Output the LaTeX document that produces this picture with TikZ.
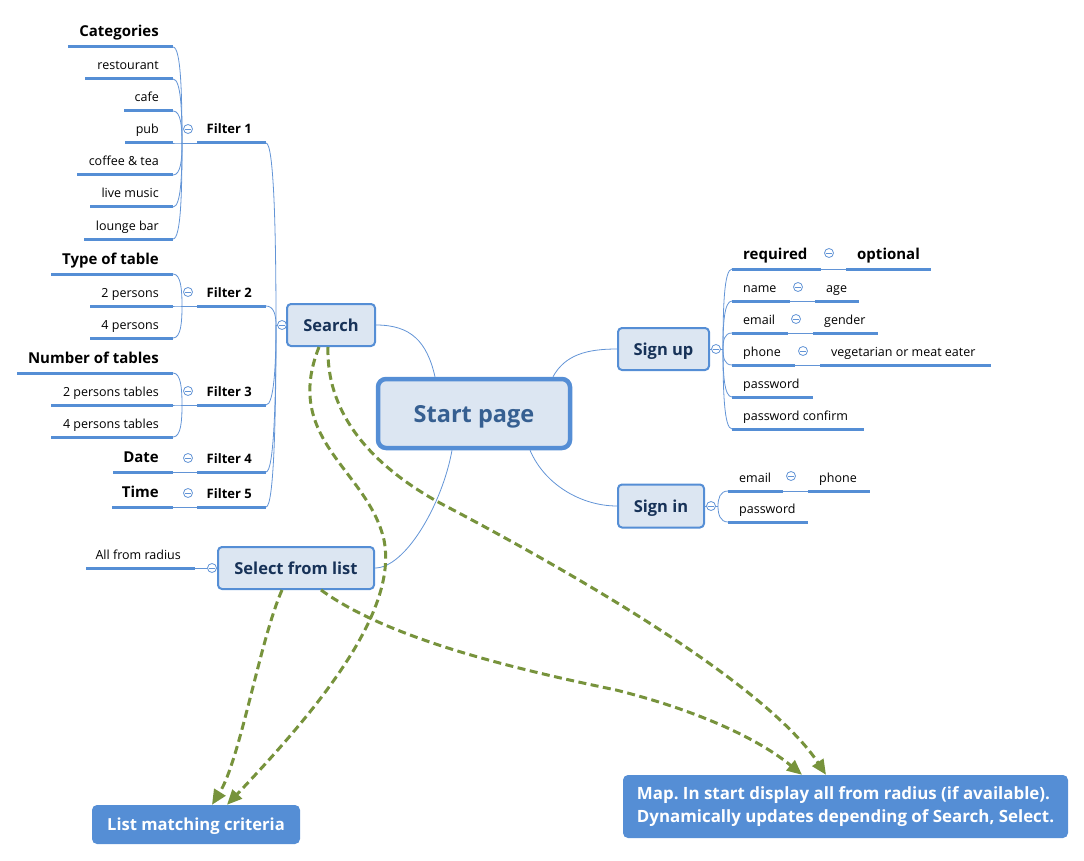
\documentclass[tikz,border=0pt]{standalone}
\usepackage{fontspec}
\setmainfont{Open Sans}
\usetikzlibrary{arrows.meta,calc}
\frenchspacing

\definecolor{topicblue}{RGB}{85,142,213}
\definecolor{linkblue}{RGB}{98,148,214}
\definecolor{boxfill}{RGB}{220,230,242}
\definecolor{navy}{RGB}{23,50,88}
\definecolor{titleblue}{RGB}{54,95,145}
\definecolor{olive}{RGB}{119,147,60}

\newcommand{\setfs}[1]{\fontsize{#1}{#1}\selectfont}

% left-hand leaf: name, underline y, left x, right x, style, text
\newcommand{\lleaf}[6]{%
  \coordinate (#1-a) at (#3,#2);
  \coordinate (#1-b) at (#4,#2);
  \draw[uline] (#1-a) -- (#1-b);
  \node[#5, anchor=base east] (#1) at ({#4-14},{#2-9}) {#6};}
% right-hand leaf: name, underline y, left x, right x, style, text
\newcommand{\rleaf}[6]{%
  \coordinate (#1-a) at (#3,#2);
  \coordinate (#1-b) at (#4,#2);
  \draw[uline] (#1-a) -- (#1-b);
  \node[#5, anchor=base west] (#1) at ({#3+11},{#2-9}) {#6};}
% curved branch from a leaf end to its junction
\newcommand{\joinL}[2]{\draw[link] (#1) .. controls ($(#1)+(8,0)$) and ($(#2)!0.5!(#2|-#1)$) .. (#2);}
\newcommand{\joinR}[2]{\draw[link] (#1) .. controls ($(#1)+(-8,0)$) and ($(#2)!0.5!(#2|-#1)$) .. (#2);}

\begin{document}
\begin{tikzpicture}[x=1pt,y=-1pt,
  leaf/.style={font=\setfs{12.5}, inner sep=0pt, text=black},
  head/.style={font=\bfseries\setfs{15}, inner sep=0pt, text=black, yshift=1pt},
  flt/.style={font=\bfseries\setfs{13}, inner sep=0pt, text=black},
  uline/.style={line width=3pt, topicblue},
  link/.style={line width=0.8pt, linkblue},
  topic/.style={draw=topicblue, line width=2pt, fill=boxfill, rounded corners=4pt,
    font=\bfseries\setfs{16.5}, text=navy, inner sep=0pt, text depth=0pt},
  mainbox/.style={draw=topicblue, line width=4.5pt, fill=boxfill, rounded corners=8pt,
    font=\bfseries\setfs{23.5}, text=titleblue, inner sep=0pt, text depth=0pt,
    minimum width=192pt, minimum height=69pt},
  callout/.style={fill=topicblue, rounded corners=5pt, text=white,
    font=\bfseries\setfs{16.6}, inner sep=0pt},
  flow/.style={olive, line width=3pt, dash pattern=on 8pt off 4.5pt,
    -{Triangle[length=15pt,width=13pt]}},
  fold/.style={circle, draw=linkblue, fill=white, line width=0.8pt, minimum size=9pt,
    inner sep=0pt, path picture={\draw[linkblue, line width=0.8pt]
      ([xshift=-2.6pt]path picture bounding box.center) --
      ([xshift=2.6pt]path picture bounding box.center);}}]
\useasboundingbox (0,0) rectangle (1084,861);

% ---- Filter 1: categories
\lleaf{cat}{47}{68}{173}{head}{Categories}
\lleaf{rest}{79}{85}{173}{leaf}{restourant}
\lleaf{cafe}{111}{124}{173}{leaf}{cafe}
\lleaf{pub}{143}{125}{173}{leaf}{pub}
\lleaf{cof}{175}{77}{173}{leaf}{coffee \& tea}
\lleaf{live}{207}{90}{173}{leaf}{live music}
\lleaf{lounge}{239}{84}{173}{leaf}{lounge bar}
\lleaf{f1}{143}{197}{266}{flt}{Filter 1}
\coordinate (j1) at (182,143);
\foreach \c in {cat,rest,cafe,pub,cof,live,lounge} {\joinL{\c-b}{j1}}
\draw[link] (j1) -- (f1-a);
\node[fold] (fo1) at (188,129) {};

% ---- Filter 2: type of table
\lleaf{type}{274}{51}{173}{head}{Type of table}
\lleaf{twop}{306}{90}{173}{leaf}{2 persons}
\lleaf{fourp}{338}{90}{173}{leaf}{4 persons}
\lleaf{f2}{306}{197}{266}{flt}{Filter 2}
\coordinate (j2) at (182,306);
\foreach \c in {type,twop,fourp} {\joinL{\c-b}{j2}}
\draw[link] (j2) -- (f2-a);
\node[fold] (fo2) at (188,292) {};

% ---- Filter 3: number of tables
\lleaf{num}{373}{17}{173}{head}{Number of tables}
\lleaf{twot}{405}{51}{173}{leaf}{2 persons tables}
\lleaf{fourt}{437}{51}{173}{leaf}{4 persons tables}
\lleaf{f3}{405}{197}{266}{flt}{Filter 3}
\coordinate (j3) at (182,405);
\foreach \c in {num,twot,fourt} {\joinL{\c-b}{j3}}
\draw[link] (j3) -- (f3-a);
\node[fold] (fo3) at (188,391) {};

% ---- Filters 4 and 5
\lleaf{date}{472}{113}{173}{head}{Date}
\lleaf{f4}{472}{197}{266}{flt}{Filter 4}
\draw[link] (date-b) -- (f4-a);
\node[fold] (fo4) at (188,458) {};
\lleaf{time}{507}{112}{173}{head}{Time}
\lleaf{f5}{507}{197}{266}{flt}{Filter 5}
\draw[link] (time-b) -- (f5-a);
\node[fold] (fo5) at (188,493) {};

% ---- Search
\node[topic, minimum width=88pt, minimum height=42pt] (search) at (331,325) {Search};
\coordinate (js) at (276,325);
\foreach \f in {f1,f2,f3,f4,f5} {\joinL{\f-b}{js}}
\draw[link] (js) -- (search.west);
\node[fold] (fos) at (282,325) {};

% ---- Start page
\node[mainbox] (start) at (474,413.5) {Start page};
\draw[link] (search.east) .. controls +(35,0) and +(-8,-35) .. ([xshift=-39pt]start.north);

% ---- Sign up
\node[topic, minimum width=91pt, minimum height=42pt] (signup) at (663.5,349) {Sign up};
\draw[link] ([xshift=79pt]start.north) .. controls +(12,-22) and +(-30,0) .. (signup.west);
\coordinate (ju) at (723,349);
\draw[link] (signup.east) -- (ju);
\node[fold] (fou) at (716,349) {};
\rleaf{req}{269}{732}{821}{head}{required}
\rleaf{opt}{269}{846}{931}{head}{optional}
\rleaf{name}{301}{732}{790}{leaf}{name}
\rleaf{age}{301}{815}{859}{leaf}{age}
\rleaf{mail}{333}{732}{788}{leaf}{email}
\rleaf{gend}{333}{813}{878}{leaf}{gender}
\rleaf{phone}{365}{732}{795}{leaf}{phone}
\rleaf{veg}{365}{820}{991}{leaf}{vegetarian or meat eater}
\rleaf{pw}{397}{732}{813}{leaf}{password}
\rleaf{pwc}{429}{732}{864}{leaf}{password confirm}
\foreach \c in {req,name,mail,phone,pw,pwc} {\joinR{\c-a}{ju}}
\draw[link] (req-b) -- (opt-a);
\draw[link] (name-b) -- (age-a);
\draw[link] (mail-b) -- (gend-a);
\draw[link] (phone-b) -- (veg-a);
\node[fold] (foq) at (829,253) {};
\node[fold] (fon) at (798,287) {};
\node[fold] (foe) at (796,319) {};
\node[fold] (fop) at (803,351) {};

% ---- Sign in
\node[topic, minimum width=86pt, minimum height=43pt] (signin) at (661,506) {Sign in};
\draw[link] ([xshift=56pt]start.south) .. controls +(15,35) and +(-35,0) .. (signin.west);
\coordinate (ji) at (718,506);
\draw[link] (signin.east) -- (ji);
\node[fold] (foi) at (711,506) {};
\rleaf{smail}{491}{728}{783}{leaf}{email}
\rleaf{sphone}{491}{808}{870}{leaf}{phone}
\rleaf{spw}{522}{728}{808}{leaf}{password}
\foreach \c in {smail,spw} {\joinR{\c-a}{ji}}
\draw[link] (smail-b) -- (sphone-a);
\node[fold] (fom) at (791,476) {};

% ---- Select from list
\node[topic, minimum width=156pt, minimum height=42pt] (select) at (296,568) {Select from list};
\draw[link] ([xshift=-22pt]start.south) .. controls +(-10,55) and +(30,0) .. (select.east);
\lleaf{radius}{568}{86}{195}{leaf}{All from radius}
\draw[link] (radius-b) -- (select.west);
\node[fold] (for) at (212,568) {};

% ---- Result views
\node[callout, minimum width=208pt, minimum height=39pt, text depth=0pt] (list) at (196,824.5) {List matching criteria};
\node[callout, minimum width=445pt, minimum height=63pt, align=left,
  font=\bfseries\fontsize{16.9}{23}\selectfont] (map) at (845.5,806.5)
  {Map. In start display all from radius (if available).\\Dynamically updates depending of Search, Select.};

% ---- Data flow
\draw[flow] ([xshift=-12pt]search.south) .. controls (282,440) and (368,470) .. (384,540)
  .. controls (398,610) and (322,705) .. ([xshift=31pt]list.north);
\draw[flow] ([xshift=-3pt]search.south) .. controls (326,420) and (380,470) .. (440,503)
  .. controls (600,587) and (770,690) .. ([xshift=-19.5pt]map.north);
\draw[flow] ([xshift=25pt]select.south) .. controls (390,640) and (520,670) .. (616,690)
  .. controls (700,711) and (760,740) .. ([xshift=-43.5pt]map.north);
\draw[flow] ([xshift=-14pt]select.south) .. controls (260,640) and (240,760) .. ([xshift=16pt]list.north);
\end{tikzpicture}
\end{document}
